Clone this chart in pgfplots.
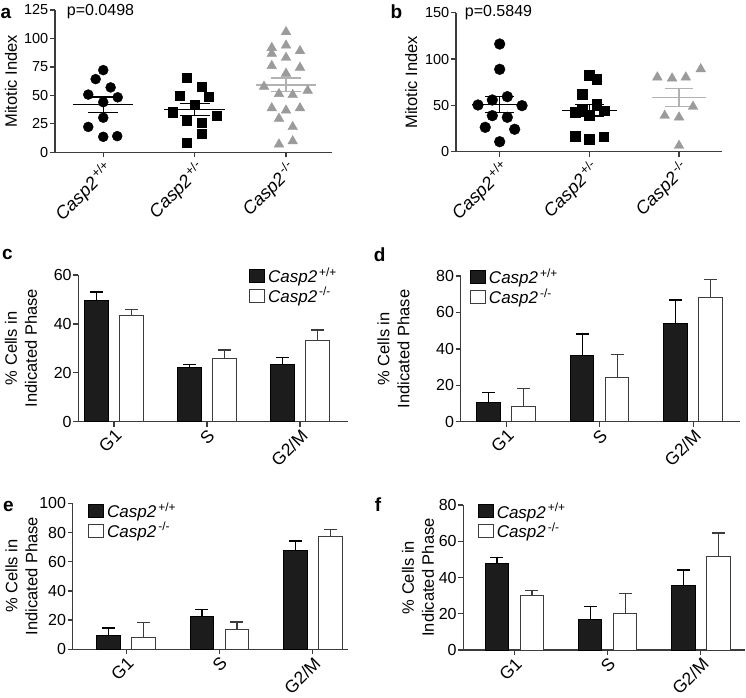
\documentclass[border=0pt]{standalone}
\usepackage{pgfplots}
\pgfplotsset{compat=1.18}
\usepackage{fontspec}
\setmainfont{Liberation Sans}
\setsansfont{Liberation Sans}
\definecolor{axc}{RGB}{60,60,60}
\definecolor{barblk}{RGB}{28,28,28}
\definecolor{trig}{RGB}{155,155,155}
\definecolor{trigl}{RGB}{178,178,178}
\newcommand{\cspp}{\textit{Casp2}\textsuperscript{\,+/+}}
\newcommand{\cspm}{\textit{Casp2}\textsuperscript{\,+/-}}
\newcommand{\csmm}{\textit{Casp2}\textsuperscript{\,-/-}}
\pgfplotsset{
  panel/.style={
    scale only axis, anchor=south west, clip=false,
    axis x line*=bottom, axis y line*=left,
    axis line style={line width=1.3pt, draw=axc},
    tick style={line width=1.3pt, draw=axc},
    tick align=outside, major tick length=5pt,
    ymin=0, xtick={0,1,2}, enlargelimits=false,
    /pgf/number format/assume math mode=true,
    yticklabel style={inner sep=1.5pt},
    xticklabel style={rotate=45, anchor=north east, inner sep=1pt},
    ylabel style={anchor=center, align=center},
  },
  scat/.style={panel,
    yticklabel style={font=\fontsize{14.5}{17}\selectfont},
    xticklabel style={font=\fontsize{18}{21}\selectfont},
    ylabel style={font=\fontsize{16.5}{20}\selectfont},
    xticklabels={{\cspp},{\cspm},{\csmm}},
  },
  bars/.style={panel, ybar, bar width=23.5pt,
    ymin=0,
    yticklabel style={font=\fontsize{16}{19}\selectfont},
    xticklabel style={font=\fontsize{17.5}{20}\selectfont},
    ylabel style={font=\fontsize{16.5}{20}\selectfont},
    xticklabels={G1,S,G2/M},
    ylabel={\% Cells in\\Indicated Phase},
    legend cell align=left,
    legend style={draw=none, fill=none, inner sep=0pt, outer sep=0pt,
      font=\fontsize{17}{20}\selectfont, row sep=1pt, column sep=2pt,
      nodes={inner sep=1pt}},
  },
  circ/.style={only marks, mark=*, mark size=5pt, draw=black, fill=black},
  sqr/.style={only marks, mark=square*, mark size=4.6pt, draw=black, fill=black},
  tri/.style={only marks, mark=triangle*, mark size=5.6pt, draw=trig, fill=trig},
  mline/.style={no marks, line width=1.3pt, draw=black, unbounded coords=jump},
  tline/.style={no marks, line width=1.5pt, draw=trigl, unbounded coords=jump},
  bblk/.style={bar shift=-17.5pt, fill=barblk, draw=black, line width=1pt,
    legend image code/.code={\draw[fill=barblk,draw=black,line width=0.8pt] (0pt,-6.5pt) rectangle (15pt,6.5pt);},
    error bars/.cd, y dir=plus, y explicit,
    error bar style={line width=1.3pt, draw=black},
    error mark options={rotate=90, mark size=6.5pt, line width=1.3pt, draw=black}},
  bwht/.style={bar shift=17.5pt, fill=white, draw=axc, line width=1pt,
    legend image code/.code={\draw[fill=white,draw=axc,line width=0.8pt] (0pt,-6.5pt) rectangle (15pt,6.5pt);},
    error bars/.cd, y dir=plus, y explicit,
    error bar style={line width=1.3pt, draw=axc},
    error mark options={rotate=90, mark size=6.5pt, line width=1.3pt, draw=axc}},
}
\begin{document}
\begin{tikzpicture}
\useasboundingbox (0pt,0pt) rectangle (746pt,697pt);

% ---------------- panel a ----------------
\begin{axis}[scat, at={(55pt,544.7pt)}, width=277pt, height=142.3pt,
  xmin=-0.528, xmax=2.503, ymax=125, ytick={0,25,50,75,100,125},
  ylabel={Mitotic Index}, ylabel style={at={(axis description cs:-0.159,0.5)}}]
\addplot[circ] coordinates {(0,72.2) (-0.083,64.3) (0.081,57) (-0.164,50.7) (0.158,48.3) (0,44) (0,30.4) (-0.164,22.3) (0,13.6) (0.153,14.2)};
\addplot[sqr] coordinates {(0.916,65.7) (1.073,57.9) (0.836,49.8) (1.156,49) (1,41.7) (0.756,35.3) (1.237,32.4) (0.916,28.1) (1.073,25.7) (1.073,16.5) (0.916,8.4)};
\addplot[tri] coordinates {(2,105.7) (1.844,91.8) (1.844,86.6) (2,93.9) (2.153,89) (2,83.1) (1.844,75.9) (2.153,74.4) (2,69.2) (1.759,57.7) (1.923,51.3) (2.073,50.4) (2.237,54.2) (1.844,38.8) (2.153,38.8) (2,36.8) (1.923,29.6) (2.073,22.3) (1.923,7) (2.073,9.8)};
\addplot[mline] coordinates {(-0.33,41.7) (0.33,41.7) (nan,nan) (-0.164,48.5) (0.164,48.5) (nan,nan) (-0.164,35) (0.164,35) (nan,nan) (0,35) (0,48.5)};
\addplot[mline] coordinates {(0.67,37.5) (1.33,37.5) (nan,nan) (0.836,42.8) (1.164,42.8) (nan,nan) (0.836,32.2) (1.164,32.2) (nan,nan) (1,32.2) (1,42.8)};
\addplot[tline] coordinates {(1.67,59.1) (2.33,59.1) (nan,nan) (1.836,65.2) (2.164,65.2) (nan,nan) (1.836,53.3) (2.164,53.3) (nan,nan) (2,53.3) (2,65.2)};
\end{axis}

% ---------------- panel b ----------------
\begin{axis}[scat, at={(456pt,545.3pt)}, width=266pt, height=139pt,
  xmin=-0.487, xmax=2.479, ymax=150, ytick={0,50,100,150},
  ylabel={Mitotic Index}, ylabel style={at={(axis description cs:-0.168,0.5)}}]
\addplot[circ, mark size=5.4pt] coordinates {(0,116.2) (0,88.9) (0.085,59.4) (-0.082,55.8) (-0.242,50.4) (0.249,49.7) (-0.082,38.9) (0.085,37.1) (-0.161,26.3) (0.167,24.2) (0,10.8)};
\addplot[sqr, mark size=4.9pt] coordinates {(1,82.8) (1.081,78.5) (0.918,62.3) (1.081,51.1) (0.918,45.7) (0.839,42.5) (1.163,44.2) (1,39.6) (0.839,16.9) (1,13.7) (1.16,16.2)};
\addplot[tri] coordinates {(1.758,80.3) (1.922,79.2) (2.075,80.3) (2.242,89.2) (2.156,48.6) (1.84,38.9) (2,37.1) (2,6.5)};
\addplot[mline] coordinates {(-0.31,51.1) (0.31,51.1) (nan,nan) (-0.16,59.4) (0.16,59.4) (nan,nan) (-0.16,42.1) (0.16,42.1) (nan,nan) (0,42.1) (0,59.4)};
\addplot[mline] coordinates {(0.69,44.8) (1.31,44.8) (nan,nan) (0.84,50.8) (1.16,50.8) (nan,nan) (0.84,38.6) (1.16,38.6) (nan,nan) (1,38.6) (1,50.8)};
\addplot[tline] coordinates {(1.7,58.3) (2.3,58.3) (nan,nan) (1.84,68.4) (2.16,68.4) (nan,nan) (1.84,48.6) (2.16,48.6) (nan,nan) (2,48.6) (2,68.4)};
\end{axis}

% ---------------- panel c ----------------
\begin{axis}[bars, at={(78.3pt,275.3pt)}, width=269.7pt, height=146.7pt,
  xmin=-0.384, xmax=2.516, ymax=60, ytick={0,20,40,60},
  ylabel style={at={(axis description cs:-0.2125,0.5)}},
  legend style={at={(0.634,1.055)}, anchor=north west}]
\addplot[bblk] coordinates {(0,49.5) +- (0,3.5) (1,22.3) +- (0,1.1) (2,23.2) +- (0,3.1)};
\addlegendentry{\cspp}
\addplot[bwht] coordinates {(0,43.5) +- (0,2.5) (1,26) +- (0,3.3) (2,33.2) +- (0,4.3)};
\addlegendentry{\csmm}
\end{axis}

% ---------------- panel d ----------------
\begin{axis}[bars, at={(460.7pt,275.3pt)}, width=279pt, height=145.7pt,
  xmin=-0.487, xmax=2.497, ymax=80, ytick={0,20,40,60,80},
  ylabel style={at={(axis description cs:-0.241,0.5)}},
  legend style={at={(0.034,1.055)}, anchor=north west}]
\addplot[bblk] coordinates {(0,10.4) +- (0,5.5) (1,36.6) +- (0,11.6) (2,53.7) +- (0,13.1)};
\addlegendentry{\cspp}
\addplot[bwht] coordinates {(0,8.2) +- (0,10.1) (1,24) +- (0,13) (2,68.3) +- (0,9.9)};
\addlegendentry{\csmm}
\end{axis}

% ---------------- panel e ----------------
\begin{axis}[bars, at={(72.7pt,47.7pt)}, width=275.3pt, height=146pt,
  xmin=-0.573, xmax=2.377, ymax=100, ytick={0,20,40,60,80,100},
  ylabel style={at={(axis description cs:-0.186,0.5)}},
  legend style={at={(0.057,1.01)}, anchor=north west}]
\addplot[bblk] coordinates {(0,9.3) +- (0,5.3) (1,22.6) +- (0,4.6) (2,67.8) +- (0,6.4)};
\addlegendentry{\cspp}
\addplot[bwht] coordinates {(0,8.4) +- (0,9.9) (1,13.5) +- (0,5.2) (2,77.4) +- (0,4.6)};
\addlegendentry{\csmm}
\end{axis}

% ---------------- panel f ----------------
\begin{axis}[bars, at={(463.3pt,47pt)}, width=281.7pt, height=145pt,
  xmin=-0.549, xmax=2.474, ymax=80, ytick={0,20,40,60,80},
  ylabel style={at={(axis description cs:-0.161,0.5)}},
  legend style={at={(0.052,1.02)}, anchor=north west}]
\addplot[bblk] coordinates {(0,48) +- (0,2.9) (1,17.1) +- (0,6.8) (2,35.8) +- (0,8.3)};
\addlegendentry{\cspp}
\addplot[bwht] coordinates {(0,30) +- (0,2.7) (1,19.9) +- (0,11.2) (2,51.7) +- (0,12.8)};
\addlegendentry{\csmm}
\end{axis}

% panel letters and p-values
\begin{scope}[every node/.style={font=\bfseries\fontsize{19}{22}\selectfont, inner sep=0pt}]
\node at (6pt,684pt) {a};
\node at (396.3pt,685pt) {b};
\node at (7.3pt,443pt) {c};
\node at (379.7pt,442pt) {d};
\node at (8.3pt,190.3pt) {e};
\node at (378pt,192pt) {f};
\end{scope}
\node[anchor=west, inner sep=0pt, font=\fontsize{16}{19}\selectfont] at (66.7pt,685.5pt) {p=0.0498};
\node[anchor=west, inner sep=0pt, font=\fontsize{16}{19}\selectfont] at (464.7pt,684.5pt) {p=0.5849};
\end{tikzpicture}
\end{document}
